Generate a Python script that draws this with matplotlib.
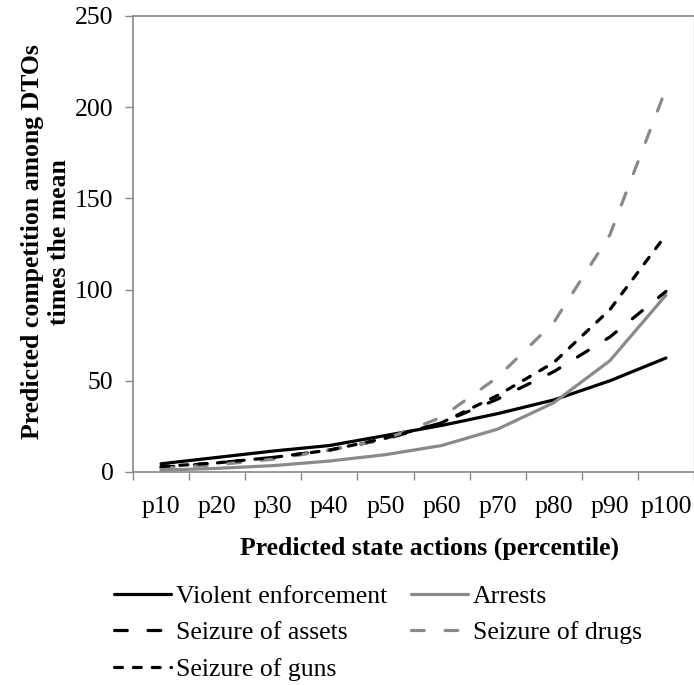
import matplotlib
matplotlib.use("Agg")
import matplotlib.pyplot as plt
import numpy as np

categories = ["p10", "p20", "p30", "p40", "p50", "p60", "p70", "p80", "p90", "p100"]
violent = [4.5, 8, 11.5, 14.5, 20, 25.5, 32, 39.5, 50, 62.5]
arrests = [1, 2, 3.5, 6, 9.5, 14.5, 23.5, 38, 61, 97]
assets = [2.5, 5, 8, 12, 18, 27, 40, 55, 74, 99]
drugs = [2, 4, 7, 12, 18, 30, 52, 82, 130, 210]
guns = [3, 5, 8, 12, 18.5, 27, 42, 60, 89, 130]
yticks = [0, 50, 100, 150, 200, 250]

plt.rcParams['font.family'] = ['Liberation Serif', 'DejaVu Serif']
FS = 18.5
W, H = 694, 685
fig = plt.figure(figsize=(W / 100, H / 100), dpi=100)
ax = fig.add_axes([133 / W, 1 - 472 / H, 561 / W, 456 / H])

x = np.arange(len(categories))
BLACK = "#000000"
GRAY = "#8a8a8a"
LW = 2.3

specs = [
    ("Violent enforcement", violent, BLACK, None),
    ("Arrests", arrests, GRAY, None),
    ("Seizure of assets", assets, BLACK, (0, (4, 6.5))),
    ("Seizure of drugs", drugs, GRAY, (0, (4, 6.5))),
    ("Seizure of guns", guns, BLACK, (0, (2.5, 3.4))),
]
handles = {}
for label, vals, col, ls in specs:
    kw = dict(color=col, lw=LW, label=label, solid_capstyle='round')
    if ls is not None:
        kw['linestyle'] = ls
        kw['dash_capstyle'] = 'round'
    ln, = ax.plot(x, vals, **kw)
    handles[label] = ln

ax.set_xlim(-0.5, len(categories) - 0.5)
ax.set_ylim(0, 250)
ax.set_yticks(yticks)
ax.set_yticklabels([str(v) for v in yticks], fontsize=FS)
ax.set_xticks(x)
ax.set_xticklabels(categories, fontsize=FS)
ax.set_xticks(np.arange(-0.5, len(categories), 1), minor=True)
ax.tick_params(axis='x', which='major', length=0, pad=17)
ax.tick_params(axis='x', which='minor', length=6, width=1, color="#888888", direction='out')
ax.tick_params(axis='y', which='major', length=6, width=1, color="#888888", direction='out', pad=8)

for s in ['left', 'bottom', 'top']:
    ax.spines[s].set_color("#888888")
    ax.spines[s].set_linewidth(1.2)
ax.spines['right'].set_color("#bbbbbb")
ax.spines['right'].set_linewidth(1.0)

fig.text(430 / W, 1 - 548 / H, "Predicted state actions (percentile)", fontsize=FS,
         fontweight='bold', ha='center', va='center')
fig.text(33 / W, 1 - 242 / H, "Predicted competition among DTOs", fontsize=FS,
         fontweight='bold', ha='center', va='center', rotation=90)
fig.text(59 / W, 1 - 242 / H, "times the mean", fontsize=FS,
         fontweight='bold', ha='center', va='center', rotation=90)

order = ["Violent enforcement", "Seizure of assets", "Seizure of guns", "Arrests", "Seizure of drugs"]
leg = fig.legend([handles[k] for k in order], order, ncol=2, loc='upper left',
                 bbox_to_anchor=(114 / W, 1 - 585 / H), frameon=False, fontsize=FS,
                 handlelength=2.2, handletextpad=0.2, columnspacing=0.95,
                 labelspacing=0.52, borderpad=0, borderaxespad=0)

fig.savefig("out.png", dpi=100)
